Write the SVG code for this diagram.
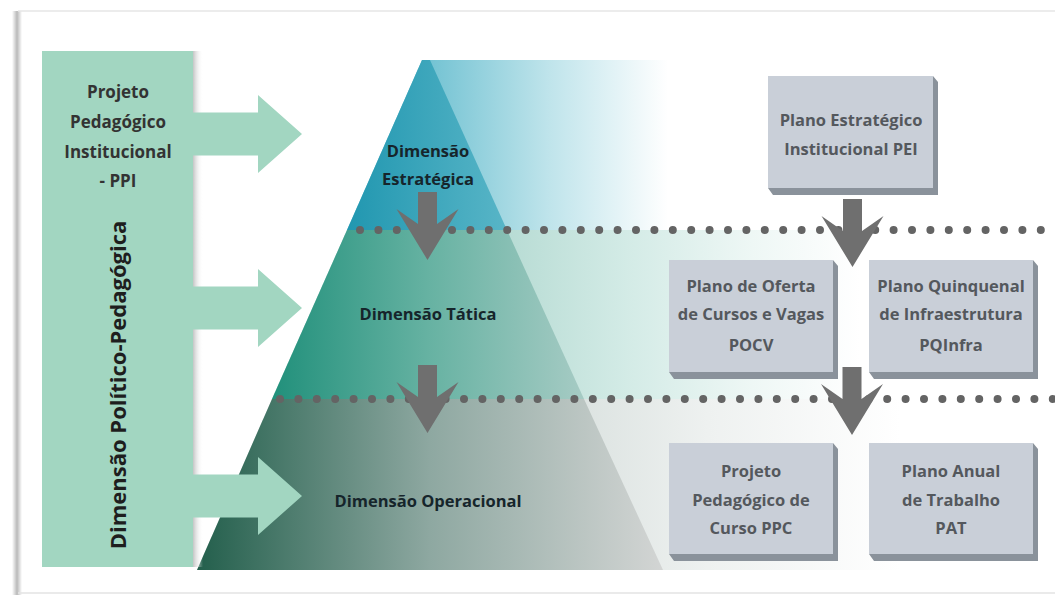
<svg xmlns="http://www.w3.org/2000/svg" width="1055" height="595" viewBox="0 0 1055 595">
  <style>
    .lbl { font-family: "Open Sans", "Liberation Sans", sans-serif; font-weight: bold; text-anchor: middle; }
    .ppi { font-size: 17px; fill: #333333; }
    .vert { font-size: 22px; fill: #1e1e1e; }
    .dim { font-size: 16.5px; fill: #16252b; }
    .box { font-size: 16.5px; fill: #54585d; }
    .boxface { fill: #c9cfd8; }
    .boxedge { fill: #8a929b; }
    .inarrow { fill: #a2d6c1; }
    .garrow { fill: #6f6f6f; }
    .dots { stroke: #646464; stroke-width: 8; stroke-linecap: round; stroke-dasharray: 0 18.4; fill: none; }
  </style>
  <defs>
    <linearGradient id="b1out" gradientUnits="userSpaceOnUse" x1="430" y1="0" x2="668" y2="0">
      <stop offset="0" stop-color="#74c3d3"/>
      <stop offset="0.5" stop-color="#bfe4eb"/>
      <stop offset="1" stop-color="#ffffff"/>
    </linearGradient>
    <linearGradient id="b1in" gradientUnits="userSpaceOnUse" x1="347" y1="0" x2="507" y2="0">
      <stop offset="0" stop-color="#2197b0"/>
      <stop offset="1" stop-color="#58b5c7"/>
    </linearGradient>
    <linearGradient id="b2out" gradientUnits="userSpaceOnUse" x1="500" y1="0" x2="860" y2="0">
      <stop offset="0" stop-color="#b6dbd3"/>
      <stop offset="0.35" stop-color="#d3ebe6"/>
      <stop offset="0.7" stop-color="#eef7f5"/>
      <stop offset="1" stop-color="#ffffff"/>
    </linearGradient>
    <linearGradient id="b2in" gradientUnits="userSpaceOnUse" x1="272" y1="0" x2="584" y2="0">
      <stop offset="0" stop-color="#21907b"/>
      <stop offset="0.5" stop-color="#66b2a2"/>
      <stop offset="1" stop-color="#a6cbc4"/>
    </linearGradient>
    <linearGradient id="b3out" gradientUnits="userSpaceOnUse" x1="580" y1="0" x2="900" y2="0">
      <stop offset="0" stop-color="#dce3e1"/>
      <stop offset="0.4" stop-color="#eef1f0"/>
      <stop offset="1" stop-color="#ffffff"/>
    </linearGradient>
    <linearGradient id="b3in" gradientUnits="userSpaceOnUse" x1="197" y1="0" x2="663" y2="0">
      <stop offset="0" stop-color="#235f4c"/>
      <stop offset="0.5" stop-color="#8ea8a1"/>
      <stop offset="1" stop-color="#d3d5d4"/>
    </linearGradient>
    <linearGradient id="leftShade" gradientUnits="userSpaceOnUse" x1="12" y1="0" x2="22" y2="0">
      <stop offset="0" stop-color="#ffffff"/>
      <stop offset="0.5" stop-color="#b9b9b9"/>
      <stop offset="1" stop-color="#ffffff"/>
    </linearGradient>
    <linearGradient id="rectShade" gradientUnits="userSpaceOnUse" x1="193" y1="0" x2="203" y2="0">
      <stop offset="0" stop-color="#c4c4c4"/>
      <stop offset="1" stop-color="#ffffff" stop-opacity="0"/>
    </linearGradient>
    <path id="downArrow" d="M-9.5,0 H9.5 V32 L31,17 L0,68 L-31,17 L-9.5,32 Z"/>
  </defs>

  <!-- frame -->
  <rect x="0" y="0" width="1055" height="595" fill="#ffffff"/>
  <rect x="12" y="11" width="10" height="584" fill="url(#leftShade)"/>
  <line x1="18" y1="11" x2="1055" y2="11" stroke="#e6e6e6" stroke-width="1.5"/>
  <line x1="18" y1="593" x2="1055" y2="593" stroke="#e3e3e3" stroke-width="1.5"/>

  <!-- pyramid bands -->
  <g id="pyramid">
    <polygon points="422,60 1055,60 1055,230 347,230" fill="url(#b1out)"/>
    <polygon points="422,60 430,60 507,230 347,230" fill="url(#b1in)"/>
    <polygon points="347,230 1055,230 1055,399 272,399" fill="url(#b2out)"/>
    <polygon points="347,230 507,230 584,399 272,399" fill="url(#b2in)"/>
    <polygon points="272,399 1055,399 1055,570 197,570" fill="url(#b3out)"/>
    <polygon points="272,399 584,399 663,570 197,570" fill="url(#b3in)"/>
  </g>

  <!-- left dimension column -->
  <g id="ppi-column">
    <rect x="193" y="51" width="10" height="516" fill="url(#rectShade)"/>
    <rect x="42" y="51" width="151" height="516" fill="#a2d6c1"/>
    <text class="lbl ppi" x="118" y="98">Projeto</text>
    <text class="lbl ppi" x="118" y="128">Pedagógico</text>
    <text class="lbl ppi" x="118" y="158">Institucional</text>
    <text class="lbl ppi" x="118" y="187">- PPI</text>
    <text class="lbl vert" transform="translate(126,385) rotate(-90)">Dimensão Político-Pedagógica</text>
  </g>

  <!-- connectors -->
  <g id="connectors">
    <polygon class="inarrow" points="192,112.5 258,112.5 258,95 302,134 258,173 258,155.5 192,155.5"/>
    <polygon class="inarrow" points="192,286.5 258,286.5 258,269 302,308 258,347 258,329.5 192,329.5"/>
    <polygon class="inarrow" points="192,474.5 258,474.5 258,457 302,496 258,535 258,517.5 192,517.5"/>
  </g>

  <!-- dotted level separators -->
  <g id="separators">
    <line class="dots" x1="360" y1="230" x2="1060" y2="230"/>
    <line class="dots" x1="280" y1="399" x2="1060" y2="399"/>
  </g>

  <!-- level labels -->
  <g id="dim-estrategica">
    <text class="lbl dim" x="428" y="157">Dimensão</text>
    <text class="lbl dim" x="428" y="185">Estratégica</text>
  </g>
  <g id="dim-tatica">
    <text class="lbl dim" x="428" y="320">Dimensão Tática</text>
  </g>
  <g id="dim-operacional">
    <text class="lbl dim" x="428" y="507">Dimensão Operacional</text>
  </g>

  <!-- down arrows -->
  <g id="down-arrows">
    <use href="#downArrow" class="garrow" x="427.5" y="192"/>
    <use href="#downArrow" class="garrow" x="427.5" y="365"/>
    <use href="#downArrow" class="garrow" x="852.5" y="199"/>
    <use href="#downArrow" class="garrow" x="852" y="367"/>
  </g>

  <!-- plan boxes -->
  <g id="box-pei">
    <polygon class="boxedge" points="933,76 938,82 938,195 773,195 768,188 933,188"/>
    <rect class="boxface" x="768" y="76" width="165" height="112"/>
    <text class="lbl box" x="851" y="126">Plano Estratégico</text>
    <text class="lbl box" x="851" y="155">Institucional PEI</text>
  </g>
  <g id="box-pocv">
    <polygon class="boxedge" points="833,260 838,266 838,379 674,379 669,372 833,372"/>
    <rect class="boxface" x="669" y="260" width="164" height="112"/>
    <text class="lbl box" x="751" y="292">Plano de Oferta</text>
    <text class="lbl box" x="751" y="320">de Cursos e Vagas</text>
    <text class="lbl box" x="751" y="351">POCV</text>
  </g>
  <g id="box-pqinfra">
    <polygon class="boxedge" points="1033,260 1038,266 1038,379 874,379 869,372 1033,372"/>
    <rect class="boxface" x="869" y="260" width="164" height="112"/>
    <text class="lbl box" x="951" y="292">Plano Quinquenal</text>
    <text class="lbl box" x="951" y="320">de Infraestrutura</text>
    <text class="lbl box" x="951" y="351">PQInfra</text>
  </g>
  <g id="box-ppc">
    <polygon class="boxedge" points="833,443 838,449 838,561 674,561 669,554 833,554"/>
    <rect class="boxface" x="669" y="443" width="164" height="111"/>
    <text class="lbl box" x="751" y="477">Projeto</text>
    <text class="lbl box" x="751" y="506">Pedagógico de</text>
    <text class="lbl box" x="751" y="534">Curso PPC</text>
  </g>
  <g id="box-pat">
    <polygon class="boxedge" points="1033,443 1038,449 1038,561 874,561 869,554 1033,554"/>
    <rect class="boxface" x="869" y="443" width="164" height="111"/>
    <text class="lbl box" x="951" y="477">Plano Anual</text>
    <text class="lbl box" x="951" y="506">de Trabalho</text>
    <text class="lbl box" x="951" y="534">PAT</text>
  </g>
</svg>
